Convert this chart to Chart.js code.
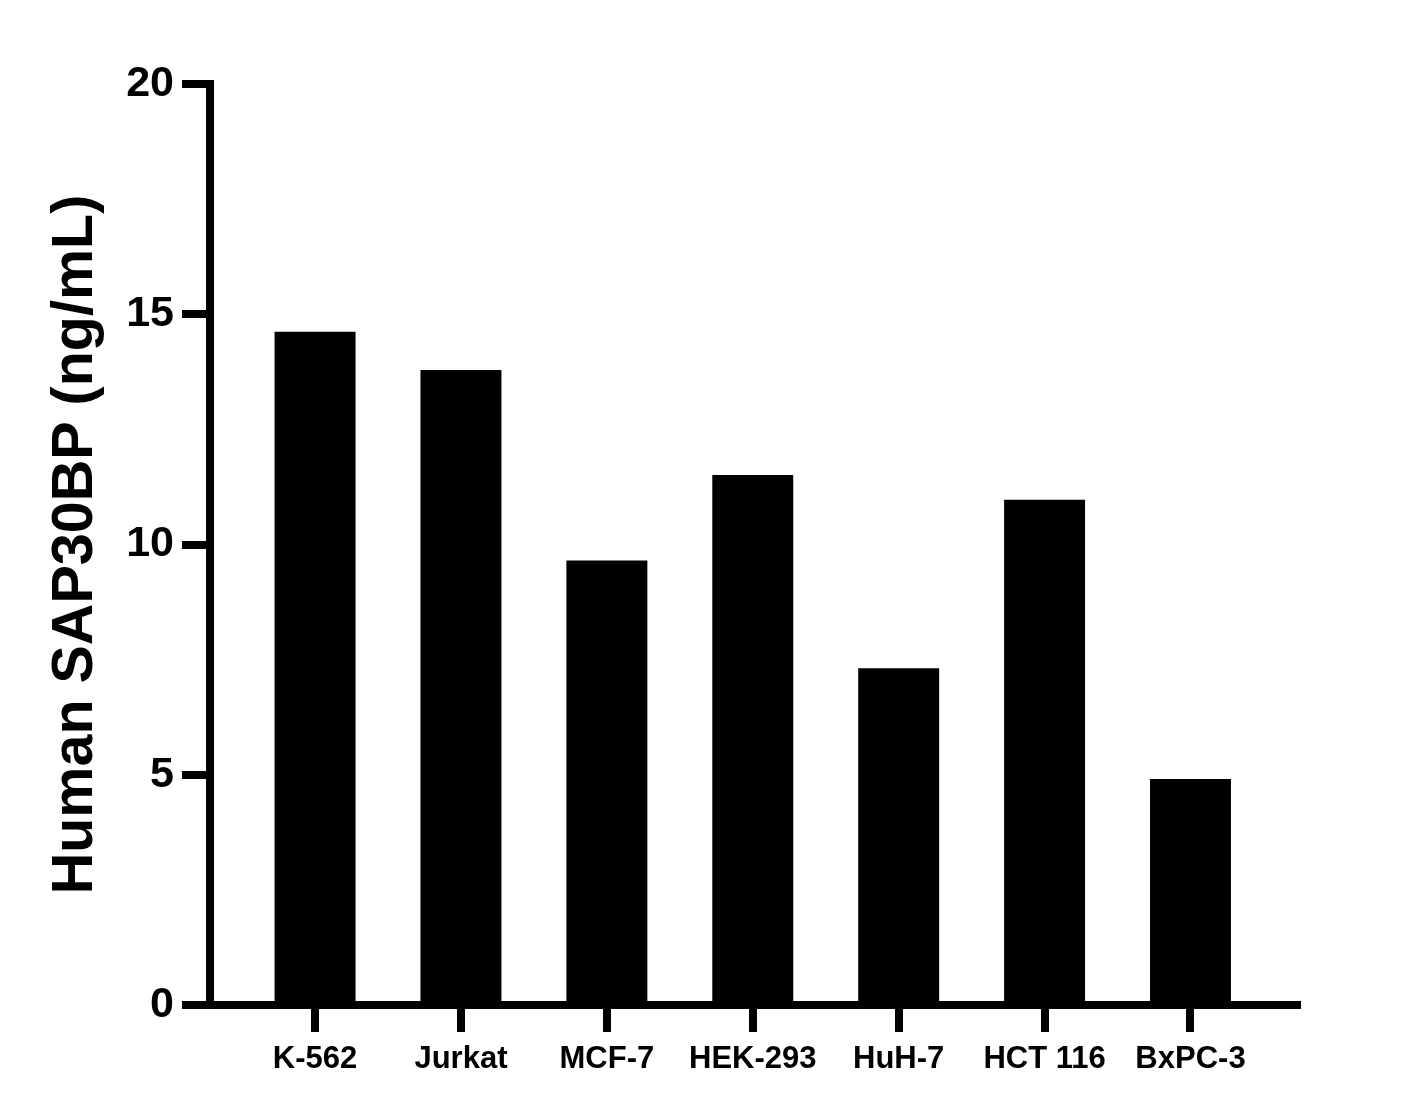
<!DOCTYPE html>
<html>
<head>
<meta charset="utf-8">
<title>Human SAP30BP</title>
<script src="https://cdn.jsdelivr.net/npm/chart.js@4.4.0/dist/chart.umd.min.js"></script>
<style>
    body { margin: 0; background: #fff; }
    #wrap { width: 1413px; height: 1118px; }
</style>
</head>
<body>
<div id="wrap"><canvas id="barChartCanvas" width="1413" height="1118"></canvas></div>
<script>
const cellLines = ['K-562', 'Jurkat', 'MCF-7', 'HEK-293', 'HuH-7', 'HCT 116', 'BxPC-3'];
const sap30bpValues = [14.62, 13.79, 9.65, 11.51, 7.31, 10.97, 4.91];
const yTicks = [0, 5, 10, 15, 20];

Chart.defaults.font.family = '"Liberation Sans", Arial, sans-serif';
Chart.defaults.font.weight = 'bold';
Chart.defaults.color = '#000';

const ctx = document.getElementById('barChartCanvas').getContext('2d');

// bars sit on a linear index axis so there is free room at both ends, like the Prism plot
const points = cellLines.map((name, i) => ({ x: i, y: sap30bpValues[i] }));

const barChart = new Chart(ctx, {
    type: 'bar',
    data: {
        datasets: [{
            label: 'Human SAP30BP',
            data: points,
            backgroundColor: '#000',
            borderWidth: 0,
            categoryPercentage: 1,
            barPercentage: 0.555
        }]
    },
    options: {
        responsive: false,
        animation: false,
        layout: {
            padding: { top: 84, left: 42, right: 116, bottom: 0 }
        },
        plugins: {
            legend: { display: false },
            tooltip: { enabled: false }
        },
        scales: {
            x: {
                type: 'linear',
                min: -0.72,
                max: 6.73,
                offset: false,
                grid: {
                    offset: false,
                    drawOnChartArea: false,
                    drawTicks: true,
                    tickLength: 27,
                    lineWidth: 8,
                    color: '#000'
                },
                border: { display: true, color: '#000', width: 8 },
                afterBuildTicks: function(scale) {
                    scale.ticks = cellLines.map((c, i) => ({ value: i }));
                },
                afterFit: function(scale) {
                    scale.height = 113;
                },
                ticks: {
                    autoSkip: false,
                    maxRotation: 0,
                    padding: 9,
                    font: { size: 31, weight: 'bold' },
                    callback: function(value) {
                        return cellLines[value] !== undefined ? cellLines[value] : '';
                    }
                }
            },
            y: {
                min: 0,
                max: 20,
                grid: {
                    drawOnChartArea: false,
                    drawTicks: true,
                    tickLength: 28,
                    lineWidth: 8,
                    color: '#000'
                },
                border: { display: true, color: '#000', width: 8 },
                afterBuildTicks: function(scale) {
                    scale.ticks = yTicks.map(v => ({ value: v }));
                },
                afterFit: function(scale) {
                    scale.width = 168;
                },
                ticks: {
                    padding: 8,
                    font: { size: 43, weight: 'bold' }
                },
                title: {
                    display: true,
                    text: 'Human SAP30BP (ng/mL)',
                    padding: 0,
                    font: { size: 57.5, weight: 'bold' }
                }
            }
        }
    }
});
</script>
</body>
</html>
